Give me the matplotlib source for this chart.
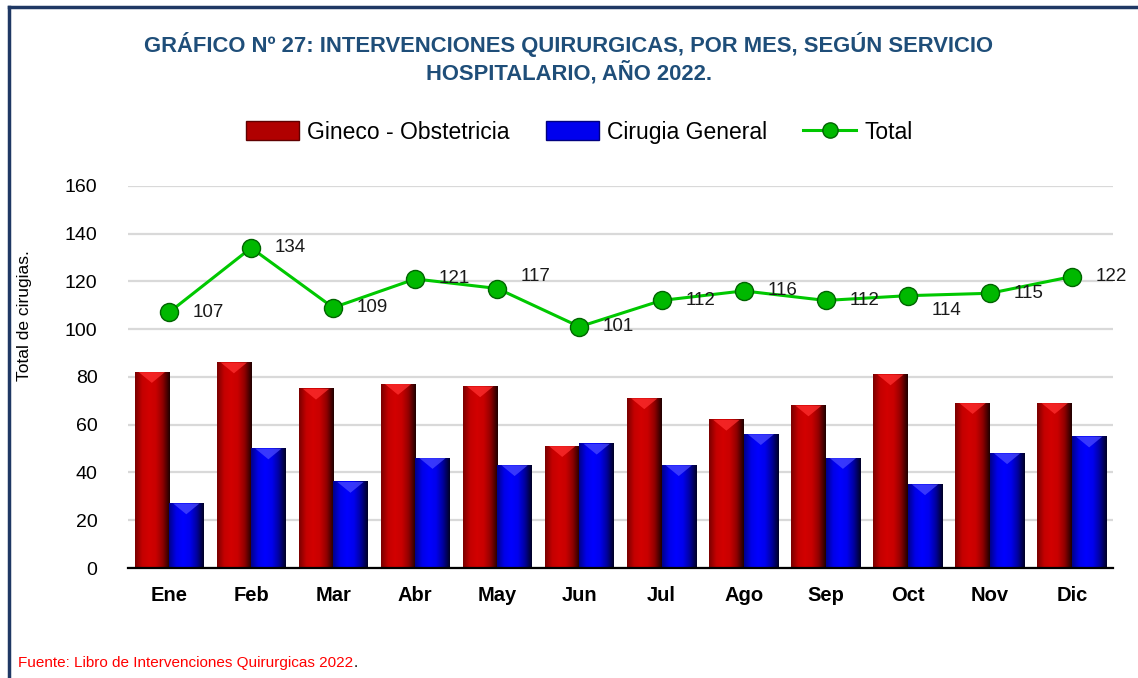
import numpy as np
import matplotlib
matplotlib.use("Agg")
import matplotlib.pyplot as plt
from matplotlib import font_manager
from matplotlib.colors import LinearSegmentedColormap
from matplotlib.lines import Line2D
from matplotlib.patches import Patch, Polygon

# pick a condensed font if there is one
try:
    font_manager.findfont("Liberation Sans Narrow", fallback_to_default=False)
    FONT = "Liberation Sans Narrow"
except Exception:
    FONT = "Liberation Sans"
plt.rcParams["font.family"] = [FONT, "DejaVu Sans"]

meses = ["Ene", "Feb", "Mar", "Abr", "May", "Jun", "Jul", "Ago", "Sep", "Oct", "Nov", "Dic"]
gineco = [82, 86, 75, 77, 76, 51, 71, 62, 68, 81, 69, 69]
cirugia = [27, 50, 36, 46, 43, 52, 43, 56, 46, 35, 48, 55]
total = [107, 134, 109, 121, 117, 101, 112, 116, 112, 114, 115, 122]
# offsets (points) of the value labels next to the total markers
lbl_dy = [0, 0, 0, 0, 9, 0, 0, 0, 0, -11, 0, 0]

fig = plt.figure(figsize=(11.38, 6.78), dpi=100)
ax = fig.add_axes([0.1125, 0.1622, 0.8655, 0.5638])

x = np.arange(len(meses))
w = 0.42
red_cmap = LinearSegmentedColormap.from_list(
    "r", ["#7a0000", "#c40000", "#d20000", "#c80000", "#900000", "#200000"])
blue_cmap = LinearSegmentedColormap.from_list(
    "b", ["#00008a", "#0000e8", "#0000ff", "#0000ee", "#0000a0", "#000025"])

b1 = ax.bar(x - w / 2, gineco, w, color="#c00000", zorder=2, label="Gineco - Obstetricia")
b2 = ax.bar(x + w / 2, cirugia, w, color="#0000ff", zorder=2, label="Cirugia General")

grad = np.linspace(0, 1, 64).reshape(1, -1)
for bars, cm, hi in ((b1, red_cmap, "#ff3030"), (b2, blue_cmap, "#4a4aff")):
    for p in bars:
        x0, ww, hh = p.get_x(), p.get_width(), p.get_height()
        ax.imshow(grad, cmap=cm, aspect="auto", zorder=2.5,
                  extent=(x0, x0 + ww, 0, hh), interpolation="bicubic")
        # small bevel at the top of each bar
        bev = 4.5
        ax.add_patch(Polygon([(x0 + ww * 0.12, hh), (x0 + ww * 0.88, hh),
                              (x0 + ww * 0.5, hh - bev)], closed=True,
                             facecolor=hi, edgecolor="none", alpha=0.75, zorder=2.6))

ax.plot(x, total, color="#00c800", lw=2.2, marker="o", markersize=13,
        markerfacecolor="#00b800", markeredgecolor="#006400", markeredgewidth=1,
        zorder=4, label="Total")
for xi, v, dy in zip(x, total, lbl_dy):
    ax.annotate(str(v), (xi, v), xytext=(17, dy), textcoords="offset points",
                va="center", ha="left", fontsize=13.5, color="#1a1a1a", zorder=5)

ax.set_xlim(-0.5, len(meses) - 0.5)
ax.set_ylim(0, 160)
ax.set_yticks(range(0, 161, 20))
ax.set_xticks(x)
ax.set_xticklabels(meses, fontsize=14.5, fontweight="bold")
ax.tick_params(axis="y", labelsize=14, length=0, pad=22)
ax.tick_params(axis="x", length=0, pad=13)
ax.yaxis.grid(True, color="#d9d9d9", lw=1.6, zorder=0)
ax.set_axisbelow(True)
for s in ("top", "right", "left"):
    ax.spines[s].set_visible(False)
ax.spines["bottom"].set_color("black")
ax.spines["bottom"].set_linewidth(1.6)
ax.spines["bottom"].set_zorder(6)
ax.set_ylabel("Total de cirugias.", fontsize=12.5, labelpad=12)
ax.yaxis.set_label_coords(-0.097, 0.66)

fig.text(0.5, 0.934, "GRÁFICO Nº 27: INTERVENCIONES QUIRURGICAS, POR MES, SEGÚN SERVICIO",
         ha="center", va="center", fontsize=15.8, fontweight="bold", color="#1f4e79")
fig.text(0.5, 0.892, "HOSPITALARIO, AÑO 2022.",
         ha="center", va="center", fontsize=15.8, fontweight="bold", color="#1f4e79")

handles = [Patch(facecolor="#b00000", edgecolor="#600000"),
           Patch(facecolor="#0000ee", edgecolor="#000080"),
           Line2D([], [], color="#00c800", lw=2.2, marker="o", markersize=11,
                  markerfacecolor="#00b800", markeredgecolor="#006400")]
fig.legend(handles, ["Gineco - Obstetricia", "Cirugia General", "Total"],
           loc="center", bbox_to_anchor=(0.509, 0.805), ncol=3, frameon=False,
           fontsize=16.5, handlelength=2.3, handleheight=0.9, handletextpad=0.35,
           columnspacing=1.6)

src = fig.text(0.016, 0.022, "Fuente: Libro de Intervenciones Quirurgicas 2022",
               color="#ff0000", fontsize=11, ha="left", va="center")
fig.add_artist(matplotlib.text.Annotation(".", xy=(1, 0), xycoords=src,
                                          va="bottom", ha="left", fontsize=11,
                                          color="black"))

# dark frame edges (left and top)
fig.add_artist(Line2D([0.0075, 0.0075], [0.0, 0.99], color="#1f3864", lw=2.5,
                      transform=fig.transFigure))
fig.add_artist(Line2D([0.0075, 1.0], [0.99, 0.99], color="#1f3864", lw=2.5,
                      transform=fig.transFigure))

fig.savefig("out.png", dpi=100)
